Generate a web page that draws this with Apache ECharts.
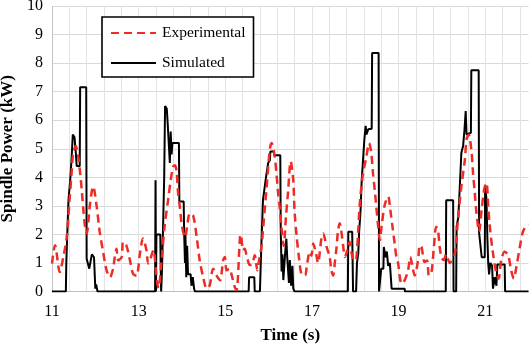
<!DOCTYPE html>
<html>
<head>
<meta charset="utf-8">
<script src="https://cdn.jsdelivr.net/npm/echarts@6/dist/echarts.min.js"></script>
<style>
  html, body { margin: 0; padding: 0; background: #fff; }
  #chart { width: 531px; height: 346px; }
</style>
</head>
<body>
<div id="chart"></div>
<script>
// Measured spindle power (dashed red)
const expTime = [11.00,11.07,11.18,11.26,11.34,11.40,11.45,11.49,11.55,11.60,11.65,11.69,11.72,11.76,11.80,11.88,11.95,12.03,12.10,12.18,
  12.26,12.34,12.41,12.45,12.49,12.53,12.61,12.64,12.72,12.80,12.87,12.95,13.03,13.10,13.18,13.22,13.26,13.34,13.42,13.46,
  13.53,13.60,13.68,13.74,13.80,13.84,13.88,13.91,13.95,14.00,14.07,14.13,14.18,14.26,14.34,14.41,14.49,14.57,14.64,14.72,
  14.80,14.88,14.95,14.99,15.03,15.10,15.15,15.22,15.26,15.34,15.36,15.41,15.45,15.49,15.57,15.63,15.68,15.74,15.78,15.84,
  15.87,15.95,16.03,16.07,16.14,16.18,16.22,16.26,16.30,16.35,16.40,16.45,16.51,16.57,16.60,16.65,16.70,16.76,16.84,16.88,
  16.95,16.99,17.03,17.10,17.14,17.22,17.26,17.34,17.41,17.45,17.49,17.53,17.57,17.60,17.64,17.72,17.76,17.84,17.87,17.91,
  17.97,18.01,18.07,18.10,18.17,18.26,18.32,18.37,18.41,18.45,18.53,18.57,18.61,18.68,18.76,18.81,18.86,18.91,18.95,18.99,
  19.03,19.07,19.14,19.22,19.27,19.33,19.37,19.45,19.49,19.53,19.57,19.60,19.66,19.70,19.76,19.81,19.87,19.91,19.95,19.99,
  20.04,20.10,20.18,20.30,20.37,20.45,20.53,20.57,20.62,20.68,20.72,20.76,20.80,20.86,20.92,20.98,21.03,21.07,21.10,21.17,
  21.26,21.31,21.37,21.45,21.53,21.60,21.66,21.72,21.80,21.87,21.95,22.00];
const expPower = [0.98,1.62,0.68,1.20,1.90,3.10,4.10,4.86,5.09,4.80,4.15,3.50,2.93,2.30,2.03,3.10,3.68,3.00,2.10,1.39,
  0.74,0.50,0.80,1.21,1.50,1.09,1.21,1.74,1.60,1.09,0.62,0.55,1.33,1.86,1.45,0.98,1.09,1.45,0.39,0.12,
  1.09,2.30,3.20,3.90,4.38,4.42,4.15,3.45,2.97,2.30,1.90,2.40,2.74,2.65,1.91,1.09,0.50,0.10,0.21,0.80,
  0.56,0.39,1.09,1.21,0.74,0.80,0.56,0.15,0.05,1.91,2.00,1.45,1.50,1.27,0.92,1.00,1.27,0.74,1.09,1.62,
  2.15,3.56,5.00,5.20,4.74,4.15,3.45,2.90,2.20,1.60,2.60,3.50,4.56,3.90,2.80,1.90,1.20,0.60,0.56,0.86,
  1.39,1.25,1.68,1.30,1.00,1.86,2.03,1.56,1.21,0.74,0.56,1.03,1.56,2.09,2.39,1.62,1.21,1.56,1.74,1.39,
  1.09,1.09,2.15,2.97,4.03,4.74,5.20,4.86,4.15,3.56,2.27,1.80,2.30,3.03,3.33,2.86,2.27,1.68,1.21,1.00,
  0.50,0.27,0.39,0.74,1.21,0.80,0.56,1.09,1.62,1.56,1.21,1.03,1.09,0.56,0.68,1.45,2.27,2.15,1.56,1.21,
  1.10,1.30,1.00,1.33,2.50,3.68,4.60,5.33,5.50,4.97,4.15,3.45,2.74,2.10,2.90,3.60,3.80,3.00,2.39,1.45,
  0.62,0.45,1.09,1.39,1.27,0.74,0.45,0.86,1.56,2.09,2.30,2.35];

// Model output (solid black)
const simTime = [11.00,11.32,11.33,11.35,11.38,11.42,11.45,11.48,11.52,11.55,11.57,11.64,11.65,11.79,11.80,11.84,11.86,11.90,11.92,11.97,
  12.00,12.02,12.05,13.38,13.39,13.40,13.41,13.50,13.51,13.52,13.54,13.56,13.59,13.61,13.65,13.67,13.70,13.72,13.74,13.76,
  13.78,13.93,13.94,14.04,14.05,14.07,14.08,14.10,14.12,14.14,14.20,14.22,14.25,14.28,14.30,15.54,15.55,15.67,15.68,15.80,
  15.82,15.84,15.87,15.94,15.99,16.03,16.04,16.12,16.13,16.27,16.28,16.30,16.32,16.34,16.37,16.38,16.41,16.43,16.45,16.47,
  16.49,16.52,16.55,16.57,16.60,17.83,17.84,17.93,17.95,18.02,18.04,18.07,18.09,18.12,18.15,18.18,18.21,18.24,18.26,18.30,
  18.38,18.39,18.54,18.55,18.59,18.60,18.65,18.66,18.70,18.73,18.76,18.80,18.84,19.14,19.15,20.09,20.10,20.26,20.27,20.33,
  20.34,20.38,20.42,20.45,20.49,20.52,20.55,20.57,20.60,20.67,20.68,20.85,20.86,20.90,20.92,20.99,21.00,21.03,21.05,21.07,
  21.09,21.12,21.16,21.18,21.22,21.26,21.28,21.45,21.46,22.00];
const simPower = [0,0,1.0,1.9,3.2,3.9,4.6,5.5,5.4,4.85,4.4,4.4,7.15,7.15,1.15,1.1,0.8,0.8,1.3,1.2,
  0.1,0.25,0,0,3.9,0,2.0,2.0,0.8,0,0.8,2.0,4.0,6.5,6.4,5.9,5.9,4.5,5.6,4.8,
  5.2,5.2,3.15,3.15,2.1,1.0,2.0,0.5,1.6,0.6,0.6,0.2,0.5,0.1,0,0,0.5,0.5,0,0,
  1.0,1.9,3.2,4.0,4.5,4.6,4.9,4.9,4.77,4.77,2.2,0.7,1.3,0.4,0.4,1.3,1.85,1.2,1.2,0.3,
  1.1,0.2,0.9,0.1,0,0,2.09,2.09,0,0,1.0,1.33,2.09,2.74,3.9,4.6,5.3,5.8,5.5,5.68,
  5.7,8.35,8.35,0,0,0.8,0.8,1.56,1.2,1.4,0.9,1.0,0.1,0.1,0,0,3.2,3.2,0,0,
  2.27,2.6,3.86,4.86,5.1,5.62,6.32,5.5,5.56,5.56,7.75,7.75,2.05,2.05,1.2,1.2,3.74,3.2,1.9,1.0,
  0.6,1.0,0.9,0.1,0.5,0.2,0.95,0.95,0,0];

const xLabels = [11, 13, 15, 17, 19, 21];

const pair = (ts, vs) => ts.map((t, i) => [t, vs[i]]);
const serif = '"Liberation Serif", "Times New Roman", serif';

const chart = echarts.init(document.getElementById('chart'), null, { renderer: 'canvas' });
chart.setOption({
  animation: false,
  backgroundColor: '#fff',
  grid: { left: 52, right: 2.5, top: 6, bottom: 54.5, containLabel: false, outerBoundsMode: 'none' },
  legend: {
    data: ['Experimental', 'Simulated'],
    orient: 'vertical',
    left: 102, top: 17,
    padding: [8, 8, 6, 8],
    itemGap: 14,
    itemWidth: 45, itemHeight: 14,
    itemStyle: { opacity: 0 },
    backgroundColor: '#fff',
    borderColor: '#000', borderWidth: 1.6, borderRadius: 0,
    textStyle: { fontFamily: serif, fontSize: 15.5, color: '#000', padding: [0, 0, 0, 1] }
  },
  xAxis: [{
    type: 'value', min: 11, max: 22, interval: 2,
    axisLine: { show: true, lineStyle: { color: '#bfbfbf', width: 1 } },
    axisTick: { show: false },
    axisLabel: {
      fontFamily: serif, fontSize: 16, color: '#000', margin: 12,
      showMaxLabel: false,
      formatter: v => (xLabels.indexOf(v) >= 0 ? String(v) : '')
    },
    splitLine: { show: true, showMaxLine: false, lineStyle: { color: '#c4c4c4', width: 1 } },
    name: 'Time (s)', nameLocation: 'middle', nameGap: 36,
    nameTextStyle: { fontFamily: serif, fontSize: 17, fontWeight: 'bold', color: '#000' }
  }, {
    // finer vertical grid every 0.4 s
    type: 'value', min: 11, max: 22, interval: 0.4, position: 'bottom',
    axisLine: { show: false }, axisTick: { show: false }, axisLabel: { show: false },
    splitLine: { show: true, showMinLine: false, showMaxLine: false, lineStyle: { color: '#e3e3e3', width: 1 } },
    z: 0
  }],
  yAxis: {
    type: 'value', min: 0, max: 10, interval: 1,
    axisLine: { show: false },
    axisTick: { show: false },
    axisLabel: { fontFamily: serif, fontSize: 16, color: '#000', margin: 9 },
    splitLine: { show: true, lineStyle: { color: '#d9d9d9', width: 1 } },
    name: 'Spindle Power (kW)', nameLocation: 'middle', nameGap: 34, nameRotate: 90,
    nameTextStyle: { fontFamily: serif, fontSize: 17, fontWeight: 'bold', color: '#000' }
  },
  series: [{
    name: 'Simulated', type: 'line', xAxisIndex: 0,
    data: pair(simTime, simPower),
    symbol: 'none', smooth: false,
    lineStyle: { color: '#000', width: 2 },
    itemStyle: { color: '#000' },
    z: 3
  }, {
    name: 'Experimental', type: 'line', xAxisIndex: 0,
    data: pair(expTime, expPower),
    symbol: 'none', smooth: 0.3,
    lineStyle: { color: '#ee2b25', width: 2.5, type: [8, 5] },
    itemStyle: { color: '#ee2b25' },
    z: 4
  }]
});
</script>
</body>
</html>
